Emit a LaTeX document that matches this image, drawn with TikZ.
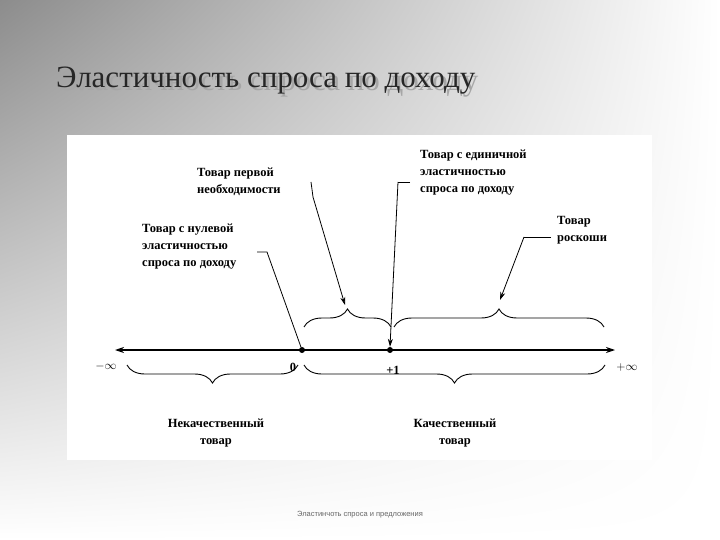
\documentclass[tikz,border=0pt]{standalone}
\usepackage{fontspec}
\setmainfont{Liberation Serif}
\newfontfamily\footfont{Liberation Sans}
\usetikzlibrary{decorations.pathreplacing,arrows.meta,shadings}
\begin{document}
\begin{tikzpicture}[x=1pt,y=-1pt,
  lbl/.style={font=\fontsize{12.5}{17}\selectfont\bfseries, align=left, inner sep=0pt, anchor=north west},
  captext/.style={font=\fontsize{12.5}{17}\selectfont\bfseries, align=center, inner sep=0pt},
  brc/.style={decorate, decoration={brace, amplitude=18pt}, line width=0.9pt},
  lead/.style={line width=0.8pt},
  arr/.style={line width=0.8pt, -{Stealth[length=8pt,width=5pt]}},
  dot/.style={circle, fill=black, inner sep=0pt, minimum size=6pt}]
\useasboundingbox (0,0) rectangle (720,540);
\shade[upper left=black!45, upper right=white, lower left=white, lower right=white] (0,0) rectangle (720,540);
\fill[white] (67,135) rectangle (652,460);
\node[font=\fontsize{31}{34}\selectfont, text=black!35, anchor=west, inner sep=0pt] at (59,84) {Эластичность спроса по доходу};
\node[font=\fontsize{31}{34}\selectfont, text=black!85, anchor=west, inner sep=0pt] (title) at (56,81) {Эластичность спроса по доходу};
% axis
\coordinate (L) at (115,350); \coordinate (R) at (615,350);
\draw[line width=1.2pt, {Stealth[length=9pt,width=6pt]}-{Stealth[length=9pt,width=6pt]}] (L) -- (R);
\node[dot] (z) at (302,350) {};
\node[dot] (one) at (390,350) {};
\node[captext, font=\fontsize{12}{14}\selectfont\bfseries] (minf) at (106,366) {$-\infty$};
\node[captext] (zl) at (293,367) {0};
\node[captext] (ol) at (393,370) {+1};
\node[captext, font=\fontsize{12}{14}\selectfont\bfseries] (pinf) at (627,367) {$+\infty$};
% upper braces
\draw[brc] (304,327) -- (391,327);
\draw[brc] (394,327) -- (604,327);
% lower braces
\draw[brc] (298,365) -- (127,365);
\draw[brc] (605,365) -- (304,365);
\node[captext] (bad) at (216,433) {Некачественный\\товар};
\node[captext] (good) at (455,433) {Качественный\\товар};
% labels
\node[lbl] (zero) at (142,224) {Товар с нулевой\\эластичностью\\спроса по доходу};
\node[lbl] (need) at (197,168) {Товар первой\\необходимости};
\node[lbl] (unit) at (420,150) {Товар с единичной\\эластичностью\\спроса по доходу};
\node[lbl] (lux) at (557,216) {Товар\\роскоши};
% leaders
\coordinate (a1) at (257,252); \coordinate (a2) at (267,252);
\draw[lead] (a1) -- (a2) -- (z);
\coordinate (b1) at (311,182); \coordinate (b2) at (313,197);
\coordinate (b3) at (345,305);
\draw[lead] (b1) -- (b2); \draw[arr] (b2) -- (b3);
\coordinate (c1) at (410,182); \coordinate (c2) at (398,182);
\draw[lead] (c1) -- (c2); \draw[arr] (c2) -- (one.north);
\coordinate (d1) at (551,237); \coordinate (d2) at (524,237);
\coordinate (d3) at (500,300);
\draw[lead] (d1) -- (d2); \draw[arr] (d2) -- (d3);
\node[font=\footfont\fontsize{7.5}{9}\selectfont, text=black!60] (foot) at (360,515) {Эластинчоть спроса и предложения};
\end{tikzpicture}
\end{document}
